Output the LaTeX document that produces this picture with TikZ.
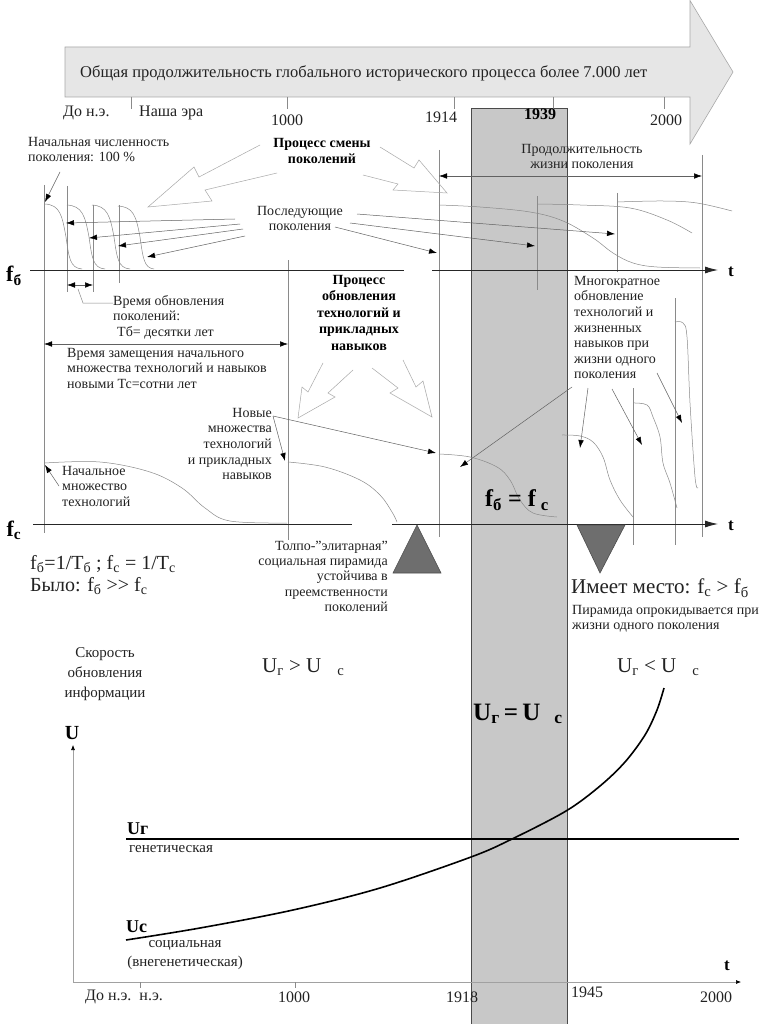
\documentclass[tikz,border=0pt]{standalone}
\usepackage{fontspec}
\setmainfont{Liberation Serif}
\usetikzlibrary{arrows.meta}
\definecolor{bandgray}{HTML}{C8C8C8}
\definecolor{bandedge}{HTML}{4A4A4A}
\definecolor{bigfill}{HTML}{E6E6E6}
\definecolor{bigedge}{HTML}{A8A8A8}
\definecolor{txt}{HTML}{222222}
\definecolor{thin}{HTML}{8A8A8A}
\definecolor{trigray}{HTML}{6E6E6E}
\begin{document}
\begin{tikzpicture}[x=1pt,y=-1pt,
  lbl/.style={font=\fontsize{14}{15.6}\selectfont, text=txt, inner sep=0pt},
  boldlbl/.style={font=\fontsize{14}{16.5}\selectfont\bfseries, text=black, inner sep=0pt},
  yr/.style={font=\fontsize{16}{18}\selectfont, text=txt, inner sep=0pt},
  gline/.style={draw=thin, line width=0.5pt},
  ptr/.style={draw=thin!70!black, line width=0.5pt, -{Latex[length=8pt,width=5.5pt,color=black]}},
  dptr/.style={draw=thin!70!black, line width=0.5pt, {Latex[length=8pt,width=5.5pt,color=black]}-{Latex[length=8pt,width=5.5pt,color=black]}},
  hollow/.style={draw=bigedge, line width=0.5pt, line join=miter},
  axisline/.style={draw=black!85, line width=0.9pt},
  heavy/.style={draw=black, line width=1.6pt},
  var/.style={font=\fontsize{22}{24}\selectfont\bfseries, inner sep=0pt},
  smallt/.style={font=\fontsize{17}{18}\selectfont\bfseries, inner sep=0pt},
]
\path[fill=white] (0,0) rectangle (764,1024);
\useasboundingbox (0,0) rectangle (764,1024);

% ---------- big timeline arrow ----------
\path[fill=bigfill, draw=bigedge, line width=0.6pt] (65,47) -- (690,47) -- (690,0.5) -- (733,72) -- (690,144) -- (690,97) -- (65,97) -- cycle;
\node[font=\fontsize{16.5}{19}\selectfont, text=txt, anchor=west, inner sep=0pt] (title) at (80,73) {Общая продолжительность глобального исторического процесса более 7.000 лет};

% ---------- grey band ----------
\path[fill=bandgray, draw=bandedge, line width=0.8pt] (471,108) rectangle (567,1024);

% ---------- top ticks and years ----------
\foreach \x in {131,287,454,553,664} \draw[gline] (\x,97) -- (\x,109);
\node[yr, anchor=west] (bc) at (63,113) {До н.э.};
\node[yr, anchor=west] (ad) at (139,113) {Наша эра};
\node[yr] (y1000) at (287,120) {1000};
\node[yr] (y1914) at (441,117) {1914};
\node[yr, font=\fontsize{16}{18}\selectfont\bfseries, text=black] (y1939) at (540,114) {1939};
\node[yr] (y2000) at (666,120) {2000};

% ---------- vertical guide lines ----------
\draw[gline] (44,185) -- (44,533);
\draw[gline] (67,186) -- (67,292);
\draw[gline] (93,205) -- (93,292);
\draw[gline] (119,205) -- (119,283);
\draw[gline] (288,260) -- (288,540);
\draw[gline] (439,150) -- (439,537);
\draw[gline] (537,196) -- (537,290);
\draw[gline] (617,193) -- (617,272);
\draw[gline] (702,155) -- (702,537);
\draw[gline] (633,388) -- (633,545);
\draw[gline] (675,298) -- (675,545);

% ---------- upper axis (f_b) ----------
\draw[axisline] (30,270) -- (404,270);
\draw[axisline, -{Latex[length=13pt,width=7pt]}] (432,270) -- (718,270);
\node[smallt] (tA) at (731,272) {t};
\node[var] (fb) at (14,276) {f\textsubscript{б}};

% generation curves
\draw[gline] (45,204) .. controls (60,205) and (62,215) .. (66,237) .. controls (69,258) and (70,268) .. (82,269);
\draw[gline] (67,205) .. controls (82,206) and (85,215) .. (89,237) .. controls (92,258) and (93,268) .. (105,269);
\draw[gline] (92,205) .. controls (107,206) and (110,215) .. (114,237) .. controls (117,258) and (118,268) .. (130,269);
\draw[gline] (118,206) .. controls (133,207) and (136,215) .. (140,237) .. controls (143,258) and (144,268) .. (154,269);
\draw[gline] plot[smooth, tension=0.6] coordinates {(439,205) (480,207) (530,212) (563,221) (593,238) (613,253) (633,263) (657,267) (700,268)};
\draw[gline] plot[smooth, tension=0.6] coordinates {(537,204) (580,205) (630,208) (667,220) (692,233)};
\draw[gline] plot[smooth, tension=0.6] coordinates {(617,202) (663,201) (697,203) (732,211)};

% labels upper
\node[lbl, anchor=north west, align=left] (init) at (28,137) {Начальная численность\\поколения: 100 \%};
\node[boldlbl, anchor=north, align=center] (smena) at (322,138) {Процесс смены\\поколений};
\node[lbl, anchor=north, align=center] (life) at (582,144) {Продолжительность\\жизни поколения};
\node[lbl, anchor=north, align=center] (next) at (300,206) {Последующие\\поколения};

\coordinate (initS) at (60,172);
\coordinate (initT) at (45,202);
\draw[ptr] (initS) -- (initT);
\coordinate (lifeL) at (439,176);
\coordinate (lifeR) at (702,176);
\draw[dptr] (lifeL) -- (lifeR);

\foreach \n/\sx/\sy/\tx/\ty in {a/235/219/66/223, b/240/224/89/238, c/243/229/118/246, d/245/236/147/257, e/357/214/615/234, f/350/223/535/246, g/335/227/437/253}{
  \coordinate (ns\n) at (\sx,\sy);
  \coordinate (nt\n) at (\tx,\ty);
  \draw[ptr] (ns\n) -- (nt\n);
}

% hollow block arrows (upper)
\draw[hollow] (260,145) -- (199,177) -- (194,167) -- (148,207) -- (212,201) -- (205,190) -- (277,173);
\draw[hollow] (380,147) -- (414,168) -- (419,160) -- (447,193) -- (393,190) -- (398,184) -- (363,175);

% ---------- middle labels ----------
\coordinate (dA) at (67,285);
\coordinate (dB) at (93,285);
\draw[dptr] (dA) -- (dB);
\node[lbl, anchor=north west, align=left] (tb) at (113,295) {Время обновления\\поколений:\\\hspace{4pt}Тб= десятки лет};
\draw[gline] (78,289) -- (83,303) -- (tb.west |- 0,303);
\coordinate (dC) at (44,344);
\coordinate (dD) at (288,344);
\draw[dptr] (dC) -- (dD);
\node[lbl, anchor=north west, align=left] (tc) at (67,348) {Время замещения начального\\множества технологий и навыков\\новыми Тс=сотни лет};

\node[boldlbl, anchor=north, align=center] (obn) at (359,275) {Процесс\\обновления\\технологий и\\прикладных\\навыков};
\draw[hollow] (323,363) -- (308,392) -- (302,387) -- (298,418) -- (335,397) -- (328,393) -- (353,370);
\draw[hollow] (372,368) -- (398,388) -- (390,393) -- (432,417) -- (423,381) -- (416,387) -- (403,360);

\node[lbl, anchor=north east, align=right] (new) at (272,408) {Новые\\множества\\технологий\\и прикладных\\навыков};
\coordinate (newS) at (273,416);
\coordinate (newT1) at (285,461);
\coordinate (newT2) at (436,453);
\draw[ptr] (newS) -- (newT1);
\draw[ptr] (newS) -- (newT2);

\node[lbl, anchor=north west, align=left] (multi) at (574,276) {Многократное\\обновление\\технологий и\\жизненных\\навыков при\\жизни одного\\поколения};
\foreach \n/\sx/\sy/\tx/\ty in {a/572/387/460/467, b/588/388/580/448, c/612/389/642/445, d/657/373/682/423}{
  \coordinate (ms\n) at (\sx,\sy);
  \coordinate (mt\n) at (\tx,\ty);
  \draw[ptr] (ms\n) -- (mt\n);
}

\node[lbl, anchor=north west, align=left] (initset) at (62,466) {Начальное\\множество\\технологий};
\coordinate (isS) at (59,486);
\coordinate (isT) at (45,465);
\draw[ptr] (isS) -- (isT);

% lower curves
\draw[gline] plot[smooth, tension=0.6] coordinates {(45,463) (100,462) (150,472) (182,488) (205,508) (230,521) (287,523)};
\draw[gline] plot[smooth, tension=0.6] coordinates {(288,462) (325,467) (360,480) (380,495) (392,512) (397,522)};
\draw[gline] plot[smooth, tension=0.6] coordinates {(439,454) (470,457) (497,467) (510,480) (520,500) (533,513) (557,517)};
\draw[gline] plot[smooth, tension=0.6] coordinates {(562,435) (580,436) (593,442) (603,457) (610,480) (620,500) (633,517)};
\draw[gline] plot[smooth, tension=0.6] coordinates {(633,403) (647,405) (653,417) (660,437) (663,463) (670,483) (677,508)};
\draw[gline] plot[smooth, tension=0.6] coordinates {(675,322) (683,323) (687,337) (690,403) (695,477) (698,488)};

% ---------- lower axis (f_c) ----------
\draw[axisline] (33,524) -- (352,524);
\draw[axisline, -{Latex[length=13pt,width=7pt]}] (392,524) -- (718,524);
\node[smallt] (tB) at (731,526) {t};
\node[var] (fc) at (14,530) {f\textsubscript{c}};
\node[font=\fontsize{24}{26}\selectfont\bfseries, inner sep=0pt] (eq) at (517,500) {f\textsubscript{б} = f\hspace{5pt}\textsubscript{c}};

\draw[fill=trigray, draw=black!70, line width=0.6pt] (393,573) -- (417,525) -- (441,573) -- cycle;
\draw[fill=trigray, draw=black!70, line width=0.6pt] (577,525) -- (625,525) -- (600,573) -- cycle;

\node[font=\fontsize{20}{22}\selectfont, text=txt, anchor=west, inner sep=0pt] (def) at (30,564) {f\textsubscript{б}=1/T\textsubscript{б} ; f\textsubscript{c} = 1/T\textsubscript{c}};
\node[font=\fontsize{20}{22}\selectfont, text=txt, anchor=west, inner sep=0pt] (was) at (30,586) {Было: f\textsubscript{б} >{}> f\textsubscript{c}};
\node[lbl, anchor=north east, align=right, font=\fontsize{14}{15.2}\selectfont] (tolpo) at (388,541) {Толпо-\symbol{34}элитарная\symbol{34}\\социальная пирамида\\устойчива в\\преемственности\\поколений};
\node[font=\fontsize{21}{23}\selectfont, text=txt, anchor=west, inner sep=0pt] (now) at (571,588) {Имеет место: f\textsubscript{c} > f\textsubscript{б}};
\node[lbl, anchor=north west, align=left] (flip) at (572,605) {Пирамида опрокидывается при\\жизни одного поколения};

% ---------- bottom chart ----------
\node[lbl, anchor=north, align=center, font=\fontsize{15}{20}\selectfont] (speed) at (105,647) {Скорость\\обновления\\информации};
\node[font=\fontsize{21}{23}\selectfont, text=txt, anchor=west, inner sep=0pt] (ugt) at (262,667) {U\textsubscript{г} > U\hspace{16pt}\textsubscript{c}};
\node[font=\fontsize{21}{23}\selectfont, text=txt, anchor=west, inner sep=0pt] (ult) at (617,667) {U\textsubscript{г} < U\hspace{16pt}\textsubscript{c}};
\node[font=\fontsize{25}{27}\selectfont\bfseries, anchor=west, inner sep=0pt] (ueq) at (473,714) {U\textsubscript{г}\,=\,U\hspace{14pt}\textsubscript{c}};
\node[font=\fontsize{20}{22}\selectfont\bfseries, inner sep=0pt] (U) at (72,733) {U};

\coordinate (o) at (73,982);
\coordinate (ytop) at (73,745);
\coordinate (xend) at (741,982);
\draw[draw=thin!80, line width=0.6pt, -{Latex[length=5pt,width=4pt,color=black]}] (o) -- (ytop);
\draw[draw=thin!80, line width=0.6pt, -{Latex[length=5pt,width=4pt,color=black]}] (o) -- (xend);
\node[smallt] (tC) at (727,966) {t};
\foreach \x in {140,295} \draw[gline] (\x,982) -- (\x,988);

\node[yr] (bbc) at (124,997) {До н.э.\hspace{8pt}н.э.};
\node[yr] (b1000) at (294,997) {1000};
\node[yr] (b1918) at (462,997) {1918};
\node[yr] (b1945) at (587,992) {1945};
\node[yr] (b2000) at (716,997) {2000};

\coordinate (urL) at (126,839);
\coordinate (urR) at (739,839);
\draw[heavy] (urL) -- (urR);
\node[font=\fontsize{18}{20}\selectfont\bfseries, anchor=west, inner sep=0pt] (urlbl) at (127,829) {Uг};
\node[lbl, anchor=west, font=\fontsize{15}{17}\selectfont] (gen) at (129,849) {генетическая};

\draw[heavy] plot[smooth, tension=0.55] coordinates {(126,940) (200,928) (293,910) (380,888) (471,857) (512,839) (566,811) (600,786) (625,762) (645,735) (657,710) (664,688)};
\node[font=\fontsize{18}{20}\selectfont\bfseries, anchor=west, inner sep=0pt] (uclbl) at (126,927) {Uc};
\node[lbl, anchor=north, align=center, font=\fontsize{15}{19}\selectfont] (soc) at (185,940) {социальная\\(внегенетическая)};

\end{tikzpicture}
\end{document}
